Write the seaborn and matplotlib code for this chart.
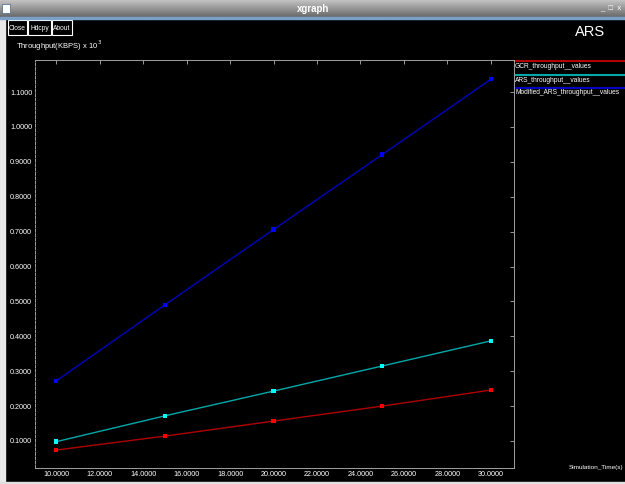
import matplotlib
matplotlib.use("Agg")
import matplotlib.pyplot as plt
from matplotlib.patches import Rectangle
from matplotlib.lines import Line2D
from matplotlib.ticker import FormatStrFormatter
import numpy as np
import pandas as pd
import seaborn as sns

# Simulation time (s) and throughput (KBPS x 10^3) per protocol
sim_time = [10, 15, 20, 25, 30]
gcr_throughput = [0.074, 0.114, 0.157, 0.200, 0.246]
ars_throughput = [0.098, 0.172, 0.243, 0.315, 0.387]
modified_ars_throughput = [0.272, 0.490, 0.706, 0.921, 1.137]

series_names = ["GCR_throughput__values", "ARS_throughput__values",
                "Modified_ARS_throughput__values"]
line_colors = ["#b00000", "#00a8a8", "#0000c0"]
marker_colors = ["#ff0000", "#00ffff", "#0000ff"]

x_ticks = [10, 12, 14, 16, 18, 20, 22, 24, 26, 28, 30]
y_ticks = [0.1, 0.2, 0.3, 0.4, 0.5, 0.6, 0.7, 0.8, 0.9, 1.0, 1.1]

df = pd.DataFrame({
    "time": sim_time * 3,
    "throughput": gcr_throughput + ars_throughput + modified_ars_throughput,
    "series": [n for n in series_names for _ in sim_time],
})

sns.set_style("dark")
plt.rcParams["font.family"] = ["Liberation Sans", "DejaVu Sans"]

W, H = 625, 484
fig = plt.figure(figsize=(W / 100, H / 100), dpi=100, facecolor="black")

# window chrome drawn in figure pixel coordinates
chrome = fig.add_axes([0, 0, 1, 1], zorder=-5)
chrome.set_xlim(0, W)
chrome.set_ylim(H, 0)
chrome.axis("off")
grad = np.linspace(0.78, 0.42, 18).reshape(-1, 1)
chrome.imshow(grad, cmap="gray", vmin=0, vmax=1, extent=(0, W, 17.5, 0),
              aspect="auto", zorder=1)
chrome.add_patch(Rectangle((0, 17), W, 1.5, color="#7aa0c8", zorder=2))
chrome.add_patch(Rectangle((2, 4), 8, 9, facecolor="white", edgecolor="#557799",
                           lw=0.6, zorder=2))
chrome.text(313, 9, "xgraph", ha="center", va="center", fontsize=7,
            fontweight="bold", color="white")
chrome.text(611, 9, "_  □  x", ha="center", va="center", fontsize=5.5, color="white")
chrome.add_patch(Rectangle((0, 18), 5, H - 18, color="#e8e8e8"))
chrome.add_patch(Rectangle((0, H - 2), W, 2, color="#e0e0e0"))
for label, x0, x1 in [("Close", 8, 27), ("Hdcpy", 28, 51), ("About", 52, 72)]:
    chrome.add_patch(Rectangle((x0, 20), x1 - x0, 15, fill=False, edgecolor="white", lw=0.8))
    chrome.text((x0 + x1) / 2, 28, label, ha="center", va="center", fontsize=4.8,
                color="white")
chrome.text(575, 32, "ARS", ha="left", va="center", fontsize=10.5, color="white")
chrome.text(16, 46, r"Throughput(KBPS) x 10$^3$", ha="left", va="center",
            fontsize=5.5, color="white")
chrome.text(569, 468, "Simulation_Time(s)", ha="left", va="center",
            fontsize=4.6, color="white", clip_on=True)

# legend: coloured rule above each series name
legend_y = [61, 75, 88]
for name, col, y in zip(series_names, line_colors, legend_y):
    chrome.add_line(Line2D([514, W], [y, y], color=col, lw=1.5))
    chrome.text(515, y + 5, name, ha="left", va="center", fontsize=4.8, color="white")

# plot area
ax = fig.add_axes([35 / W, 1 - 468 / H, (514 - 35) / W, (468 - 60) / H])
ax.set_facecolor("black")
sns.lineplot(data=df, x="time", y="throughput", hue="series",
             palette=dict(zip(series_names, line_colors)), lw=1.0,
             legend=False, ax=ax)
sns.scatterplot(data=df, x="time", y="throughput", hue="series",
                palette=dict(zip(series_names, marker_colors)), marker="s",
                s=10, linewidth=0, legend=False, ax=ax, zorder=3)

ax.set_xlim(9.03, 31.06)
ax.set_ylim(0.0226, 1.192)
ax.set_xticks(x_ticks)
ax.set_yticks(y_ticks)
ax.xaxis.set_major_formatter(FormatStrFormatter("%.4f"))
ax.yaxis.set_major_formatter(FormatStrFormatter("%.4f"))
ax.set_xlabel("")
ax.set_ylabel("")
ax.grid(False)
ax.tick_params(axis="both", which="both", direction="in", length=3, width=0.6,
               color="#b0b0b0", labelcolor="white", labelsize=5.2,
               top=True, right=True, pad=2)
for side in ["left", "right", "top", "bottom"]:
    ax.spines[side].set_visible(True)
    ax.spines[side].set_color("#a0a0a0")
    ax.spines[side].set_linewidth(0.7)
ax.spines["left"].set_linestyle((0, (3, 1.5)))

fig.savefig("out.png", dpi=100, facecolor="black")
